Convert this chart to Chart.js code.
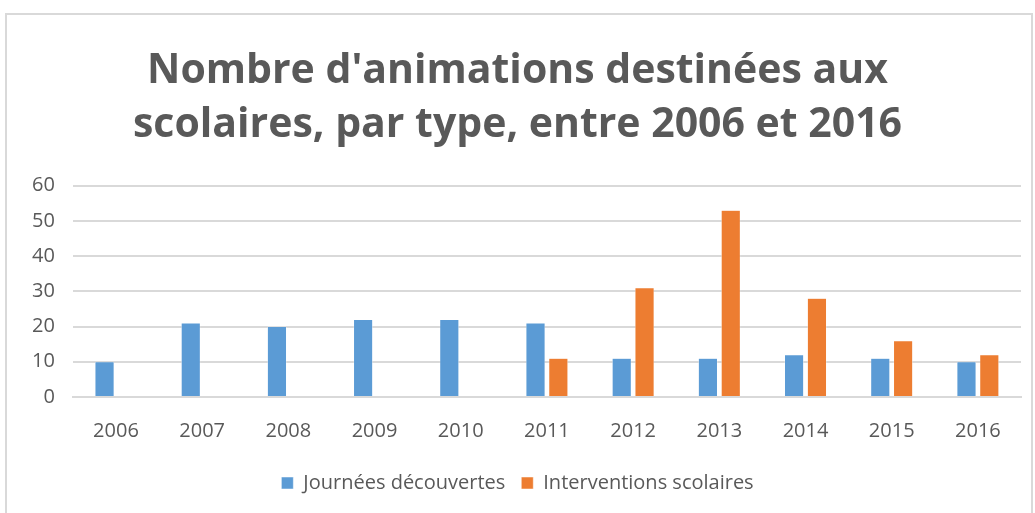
<!DOCTYPE html>
<html>
<head>
<meta charset="utf-8">
<script src="https://cdn.jsdelivr.net/npm/chart.js@4"></script>
<style>
  html, body { margin: 0; padding: 0; background: #fff; }
  #box { position: absolute; left: 5px; top: 13px; width: 1028px; height: 510px; border: 2px solid #d9d9d9; box-sizing: border-box; }
  #wrap { position: absolute; left: 0; top: 0; width: 1024px; height: 506px; }
</style>
</head>
<body>
<div id="box"><div id="wrap"><canvas id="c"></canvas></div></div>
<script>
// ── DATA ──
const years = ['2006','2007','2008','2009','2010','2011','2012','2013','2014','2015','2016'];
const journees = [10, 21, 20, 22, 22, 21, 11, 11, 12, 11, 10];
const interventions = [null, null, null, null, null, 11, 31, 53, 28, 16, 12];
const yTicks = [0, 10, 20, 30, 40, 50, 60];

const txt = '#595959', grid = '#d9d9d9';
const fam = "'Open Sans', 'Noto Sans', sans-serif";

new Chart(document.getElementById('c'), {
  type: 'bar',
  data: {
    labels: years,
    datasets: [
      { label: 'Journées découvertes', data: journees, backgroundColor: '#5b9bd5', borderColor: '#ffffff', borderWidth: 0.5, categoryPercentage: 0.53, barPercentage: 0.84 },
      { label: 'Interventions scolaires', data: interventions, backgroundColor: '#ed7d31', borderColor: '#ffffff', borderWidth: 0.5, categoryPercentage: 0.53, barPercentage: 0.84 }
    ]
  },
  options: {
    responsive: true,
    maintainAspectRatio: false,
    animation: false,
    layout: { padding: { left: 7, right: 10, top: 10, bottom: 18 } },
    plugins: {
      title: {
        display: true,
        text: ["Nombre d'animations destinées aux", 'scolaires, par type, entre 2006 et 2016'],
        color: txt,
        font: { family: fam, size: 41, weight: 'bold', lineHeight: 1.3 },
        padding: { top: 20, bottom: 34 }
      },
      legend: {
        position: 'bottom',
        labels: { color: txt, font: { family: fam, size: 20 }, boxWidth: 12, boxHeight: 12, padding: 16 }
      },
      tooltip: { enabled: false }
    },
    scales: {
      x: {
        grid: { display: false },
        border: { color: grid, width: 2 },
        ticks: { color: txt, font: { family: fam, size: 20 }, padding: 14 }
      },
      y: {
        min: 0, max: 60,
        afterBuildTicks: ax => { ax.ticks = yTicks.map(v => ({ value: v })); },
        grid: { color: grid, lineWidth: 2, drawTicks: false },
        border: { display: false },
        ticks: { color: txt, font: { family: fam, size: 20 }, padding: 18 }
      }
    }
  }
});
</script>
</body>
</html>
